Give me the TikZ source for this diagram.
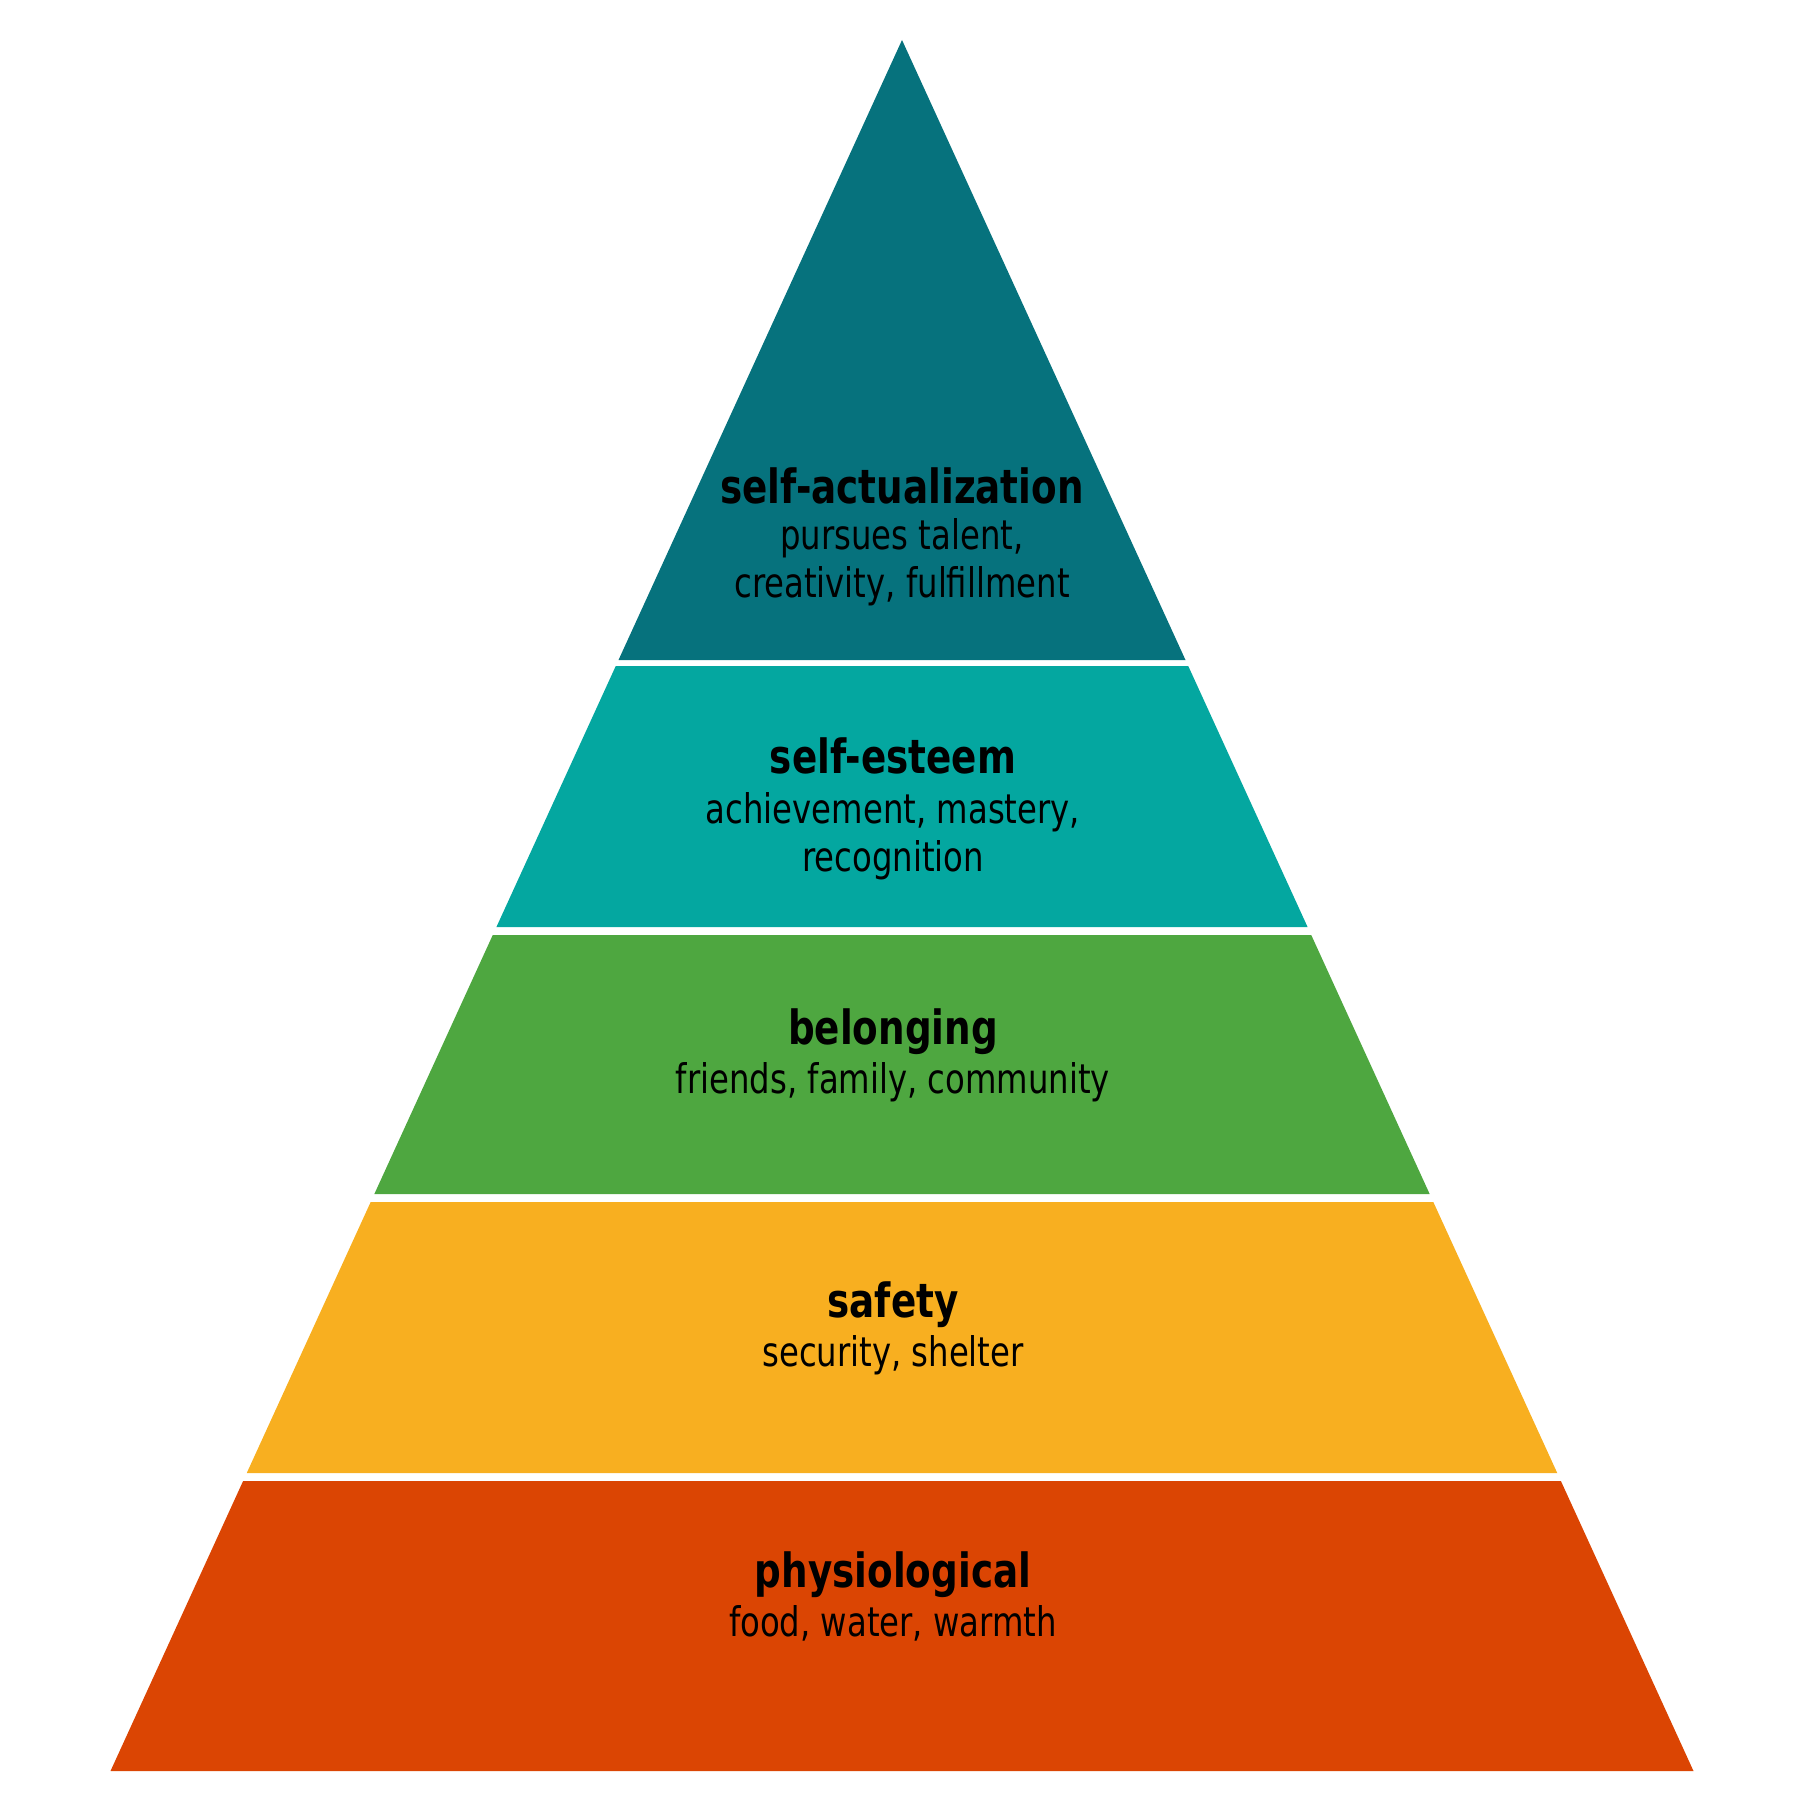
\documentclass[tikz,border=0pt]{standalone}
\usepackage{fontspec}
\setmainfont[FakeStretch=0.88]{DejaVu Sans Condensed}
\usetikzlibrary{positioning}
\definecolor{actualteal}{RGB}{6,114,125}
\definecolor{esteemteal}{RGB}{4,167,160}
\definecolor{belonggreen}{RGB}{78,167,64}
\definecolor{safetyamber}{RGB}{248,175,32}
\definecolor{physorange}{RGB}{219,69,3}

\begin{document}
\begin{tikzpicture}[
  x=0.01cm, y=-0.01cm,
  tiertitle/.style={font=\fontsize{13.4}{15}\selectfont\bfseries, anchor=base, inner sep=0pt},
  tiernote/.style={font=\fontsize{11.6}{13.6}\selectfont, align=center, anchor=base, inner sep=0pt}
]
  \useasboundingbox (0,0) rectangle (1800,1800);

  % pyramid tiers: top y / bottom y / colour, sides follow one triangle
  \foreach \ytop/\ybot/\tiercol in {40/660/actualteal, 666/927/esteemteal,
      935/1194/belonggreen, 1202/1473/safetyamber, 1481/1771/physorange} {
    \pgfmathsetmacro\wtop{0.45725*(\ytop-40)}
    \pgfmathsetmacro\wbot{0.45725*(\ybot-40)}
    \fill[\tiercol] (902-\wtop,\ytop) -- (902+\wtop,\ytop)
      -- (902+\wbot,\ybot) -- (902-\wbot,\ybot) -- cycle;
  }

  % notes sit on the baseline of their last line
  \node[tiertitle] (acttitle) at (902,503) {self-actualization};
  \node[tiernote] (actnote) at (902,597) {pursues talent,\\creativity, fulfillment};

  \node[tiertitle] (esttitle) at (893,773) {self-esteem};
  \node[tiernote] (estnote) at (893,871) {achievement, mastery,\\recognition};

  \node[tiertitle] (beltitle) at (893,1044) {belonging};
  \node[tiernote] (belnote) at (893,1093) {friends, family, community};

  \node[tiertitle] (saftitle) at (893,1317) {safety};
  \node[tiernote] (safnote) at (893,1366) {security, shelter};

  \node[tiertitle] (phystitle) at (893,1587) {physiological};
  \node[tiernote] (physnote) at (893,1636) {food, water, warmth};
\end{tikzpicture}
\end{document}
